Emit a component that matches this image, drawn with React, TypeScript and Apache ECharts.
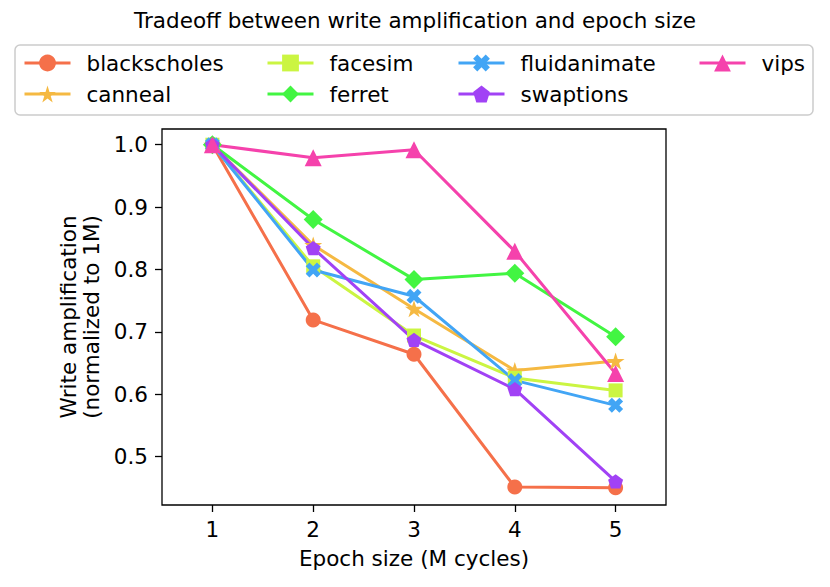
import React, { useEffect, useRef } from "react";
import * as echarts from "echarts";

const epochSizes = ["1", "2", "3", "4", "5"];
const yTicks = [0.5, 0.6, 0.7, 0.8, 0.9, 1.0];

const blackscholes = [1.0, 0.719, 0.664, 0.451, 0.45];
const canneal = [1.0, 0.839, 0.737, 0.638, 0.653];
const facesim = [1.0, 0.805, 0.694, 0.626, 0.606];
const ferret = [1.0, 0.88, 0.784, 0.794, 0.692];
const fluidanimate = [1.0, 0.799, 0.757, 0.622, 0.582];
const swaptions = [1.0, 0.834, 0.687, 0.608, 0.46];
const vips = [1.0, 0.979, 0.992, 0.829, 0.633];

const STAR = "path://M100,0 L122.45,69.1 L195.1,69.1 L136.3,111.8 L158.8,180.9 L100,138.2 L41.2,180.9 L63.7,111.8 L4.9,69.1 L77.55,69.1 Z";
const PENTA = "path://M100,0 L195.1,69.1 L158.8,180.9 L41.2,180.9 L4.9,69.1 Z";
const XMARK = "path://M25,0 L50,25 L75,0 L100,25 L75,50 L100,75 L75,100 L50,75 L25,100 L0,75 L25,50 L0,25 Z";

const seriesDefs = [
  { name: "blackscholes", data: blackscholes, color: "#F5704A", symbol: "circle", size: 15 },
  { name: "canneal", data: canneal, color: "#F5B942", symbol: STAR, size: 18 },
  { name: "facesim", data: facesim, color: "#CBF542", symbol: "rect", size: 14 },
  { name: "ferret", data: ferret, color: "#42F542", symbol: "diamond", size: 19 },
  { name: "fluidanimate", data: fluidanimate, color: "#42A5F5", symbol: XMARK, size: 15 },
  { name: "swaptions", data: swaptions, color: "#A142F5", symbol: PENTA, size: 15 },
  { name: "vips", data: vips, color: "#F542AC", symbol: "triangle", size: 17 },
];

const FONT = "DejaVu Sans";
const FS = 21.5;

export default function App() {
  const ref = useRef<HTMLDivElement>(null);
  useEffect(() => {
    if (!ref.current) return;
    const chart = echarts.init(ref.current, undefined, { renderer: "svg" });
    const legendCols = [
      { left: 23, items: ["blackscholes", "canneal"] },
      { left: 266, items: ["facesim", "ferret"] },
      { left: 457, items: ["fluidanimate", "swaptions"] },
      { left: 698, items: ["vips"] },
    ];
    chart.setOption({
      animation: false,
      backgroundColor: "#fff",
      textStyle: { fontFamily: FONT },
      title: {
        text: "Tradeoff between write amplification and epoch size",
        left: "center",
        top: 9,
        padding: 0,
        textStyle: { fontFamily: FONT, fontSize: FS, fontWeight: "normal", color: "#000" },
      },
      graphic: [
        {
          type: "rect",
          z: -1,
          shape: { x: 15, y: 45, width: 798, height: 70, r: 5 },
          style: { fill: "#fff", stroke: "#ccc", lineWidth: 1.5 },
        },
      ],
      legend: legendCols.map((c) => ({
        orient: "vertical",
        left: c.left,
        top: 51,
        padding: 0,
        data: c.items,
        itemWidth: 46,
        itemHeight: 21,
        itemGap: 7,
        lineStyle: { width: 3 },
        textStyle: { fontFamily: FONT, fontSize: FS, color: "#000", lineHeight: 24, padding: [0, 0, 0, 11] },
      })),
      grid: {
        left: 162,
        right: 164,
        top: 129,
        bottom: 82,
        show: true,
        borderColor: "#000",
        borderWidth: 1.3,
        backgroundColor: "transparent",
      },
      xAxis: {
        type: "category",
        data: epochSizes,
        boundaryGap: true,
        name: "Epoch size (M cycles)",
        nameLocation: "middle",
        nameGap: 42,
        nameTextStyle: { fontFamily: FONT, fontSize: FS, color: "#000" },
        axisLine: { show: false },
        axisTick: { show: true, alignWithLabel: true, length: 7, lineStyle: { color: "#000", width: 1.3 } },
        axisLabel: { margin: 13, fontFamily: FONT, fontSize: FS, color: "#000" },
        splitLine: { show: false },
      },
      yAxis: {
        type: "value",
        min: 0.4222,
        max: 1.0252,
        name: "Write amplification\n(normalized to 1M)",
        nameLocation: "middle",
        nameRotate: 90,
        nameGap: 51,
        nameTextStyle: { fontFamily: FONT, fontSize: FS, color: "#000", lineHeight: 23 },
        axisLine: { show: false },
        axisTick: { show: true, length: 7, customValues: yTicks, lineStyle: { color: "#000", width: 1.3 } },
        axisLabel: {
          margin: 14,
          fontFamily: FONT,
          fontSize: FS,
          color: "#000",
          customValues: yTicks,
          formatter: (v: number) => v.toFixed(1),
        },
        splitLine: { show: false },
      },
      series: seriesDefs.map((s) => ({
        name: s.name,
        type: "line",
        data: s.data,
        symbol: s.symbol,
        symbolSize: s.size,
        symbolKeepAspect: true,
        showSymbol: true,
        itemStyle: { color: s.color },
        lineStyle: { color: s.color, width: 3 },
        emphasis: { disabled: true },
      })),
    });
    return () => chart.dispose();
  }, []);
  return <div ref={ref} style={{ position: "fixed", left: 0, top: 0, width: 830, height: 587 }} />;
}
